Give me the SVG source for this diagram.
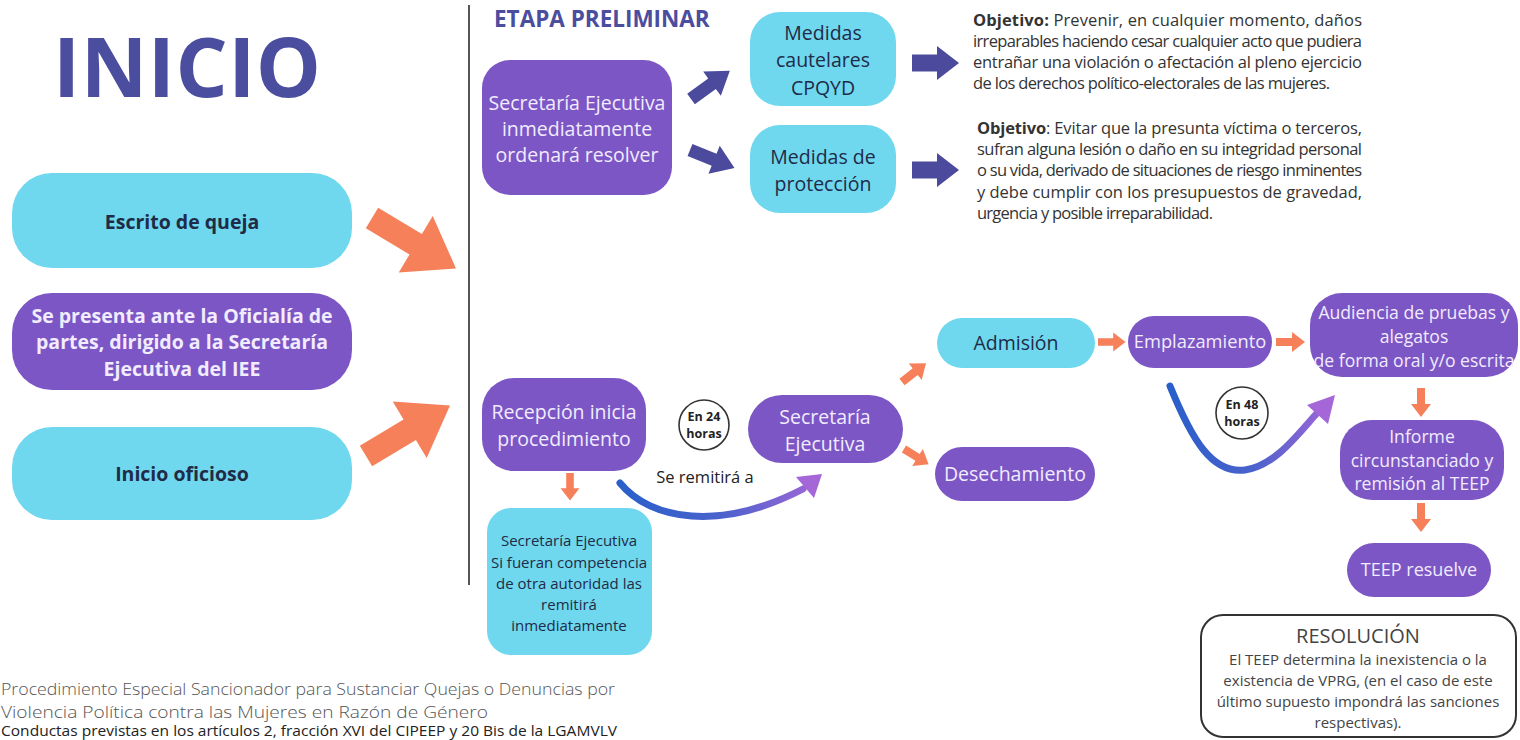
<svg xmlns="http://www.w3.org/2000/svg" xmlns:xlink="http://www.w3.org/1999/xlink" width="1520" height="740" viewBox="0 0 1520 740">
<defs>
<style>
text{font-family:"Open Sans","Noto Sans","DejaVu Sans",sans-serif}
.cy{fill:#6fd8ee}
.pu{fill:#7c56c4}
.or{fill:#f5805a}
.dk{fill:#4c4a9c}
.tdk{fill:#1f2b47;font-size:19.5px;text-anchor:middle}
.tlt{fill:#f1ecff;font-size:19.5px;text-anchor:middle}
.b{font-weight:700}
.obj{fill:#333;font-size:16.5px}
</style>
<polygon id="aBig" points="0,-12 51,-12 51,-33 98,0 51,33 51,12 0,12"/>
<polygon id="aDiag" points="0,-6.5 26,-6.5 26,-15 48,0 26,15 26,6.5 0,6.5"/>
<polygon id="aRight" points="0,-8.5 25,-8.5 25,-17 47,0 25,17 25,8.5 0,8.5"/>
<polygon id="aSm" points="0,-4 16,-4 16,-10 29,0 16,10 16,4 0,4"/>
<linearGradient id="g1" gradientUnits="userSpaceOnUse" x1="620" y1="0" x2="822" y2="0">
<stop offset="0" stop-color="#2a5fca"/><stop offset="0.5" stop-color="#4a62cc"/><stop offset="1" stop-color="#a566d8"/>
</linearGradient>
<linearGradient id="g2" gradientUnits="userSpaceOnUse" x1="1170" y1="0" x2="1335" y2="0">
<stop offset="0" stop-color="#2a5fca"/><stop offset="0.5" stop-color="#4a62cc"/><stop offset="1" stop-color="#a566d8"/>
</linearGradient>
</defs>
<rect width="1520" height="740" fill="#fff"/>

<text x="53" y="97" font-size="82" font-weight="700" fill="#4b4d9f" letter-spacing="0.5">INICIO</text>
<line x1="469" y1="5" x2="469" y2="585" stroke="#555" stroke-width="2"/>
<text x="494" y="27" font-size="22.5" font-weight="700" fill="#4b4d9f">ETAPA PRELIMINAR</text>

<g id="connectors">
<use href="#aBig" class="or" transform="translate(372,218) rotate(31)"/>
<use href="#aBig" class="or" transform="translate(366,456) rotate(-31)"/>
<use href="#aDiag" class="dk" transform="translate(691,99) rotate(-36)"/>
<use href="#aDiag" class="dk" transform="translate(690,150) rotate(22)"/>
<use href="#aRight" class="dk" transform="translate(912,63)"/>
<use href="#aRight" class="dk" transform="translate(912,170)"/>
<use href="#aSm" class="or" transform="translate(570,473) rotate(90) scale(0.95)"/>
<use href="#aSm" class="or" transform="translate(902,382) rotate(-38) scale(1.05)"/>
<use href="#aSm" class="or" transform="translate(904,449) rotate(32)"/>
<use href="#aSm" class="or" transform="translate(1098,342) scale(0.95)"/>
<use href="#aSm" class="or" transform="translate(1276,342)"/>
<use href="#aSm" class="or" transform="translate(1421,388) rotate(90)"/>
<use href="#aSm" class="or" transform="translate(1421,503) rotate(90)"/>
<path d="M620,483 C650,520 720,532 803,489" fill="none" stroke="url(#g1)" stroke-width="7" stroke-linecap="round"/>
<polygon points="822,474 796,477 814,498" fill="#a566d8"/>
<path d="M1170,386 C1192,440 1212,474 1245,470 C1275,466 1298,434 1318,412" fill="none" stroke="url(#g2)" stroke-width="7" stroke-linecap="round"/>
<polygon points="1335,395 1307,405 1328,424" fill="#a566d8"/>
<text x="705" y="483" font-size="16.5" fill="#222" text-anchor="middle">Se remitirá a</text>
</g>

<g id="escrito">
<rect x="12" y="173" width="340" height="95" rx="40" class="cy"/>
<text x="182" y="229" class="tdk b">Escrito de queja</text>
</g>
<g id="presenta">
<rect x="12" y="293" width="340" height="97" rx="40" class="pu"/>
<text x="182" y="323" class="tlt b">Se presenta ante la Oficialía de</text>
<text x="182" y="349" class="tlt b">partes, dirigido a la Secretaría</text>
<text x="182" y="376" class="tlt b">Ejecutiva del IEE</text>
</g>
<g id="oficioso">
<rect x="12" y="427" width="340" height="93" rx="40" class="cy"/>
<text x="182" y="481" class="tdk b">Inicio oficioso</text>
</g>

<g id="se-ordena">
<rect x="482" y="60" width="190" height="135" rx="28" class="pu"/>
<text x="577" y="110" class="tlt">Secretaría Ejecutiva</text>
<text x="577" y="136" class="tlt">inmediatamente</text>
<text x="577" y="162" class="tlt">ordenará resolver</text>
</g>
<g id="cautelares">
<rect x="750" y="12" width="146" height="94" rx="30" class="cy"/>
<text x="823" y="40" class="tdk">Medidas</text>
<text x="823" y="67" class="tdk">cautelares</text>
<text x="823" y="95" class="tdk">CPQYD</text>
</g>
<g id="proteccion">
<rect x="750" y="125" width="146" height="88" rx="30" class="cy"/>
<text x="823" y="164" class="tdk">Medidas de</text>
<text x="823" y="191" class="tdk">protección</text>
</g>

<g id="objetivo1">
<text x="973" y="26" class="obj" textLength="389" lengthAdjust="spacing"><tspan font-weight="700">Objetivo:</tspan> Prevenir, en cualquier momento, daños</text>
<text x="973" y="47" class="obj" textLength="389" lengthAdjust="spacing">irreparables haciendo cesar cualquier acto que pudiera</text>
<text x="973" y="68" class="obj" textLength="389" lengthAdjust="spacing">entrañar una violación o afectación al pleno ejercicio</text>
<text x="973" y="89" class="obj" textLength="357" lengthAdjust="spacing">de los derechos político-electorales de las mujeres.</text>
</g>
<g id="objetivo2">
<text x="977" y="134" class="obj" textLength="385" lengthAdjust="spacing"><tspan font-weight="700">Objetivo</tspan>: Evitar que la presunta víctima o terceros,</text>
<text x="977" y="155" class="obj" textLength="385" lengthAdjust="spacing">sufran alguna lesión o daño en su integridad personal</text>
<text x="977" y="176" class="obj" textLength="385" lengthAdjust="spacing">o su vida, derivado de situaciones de riesgo inminentes</text>
<text x="977" y="198" class="obj" textLength="385" lengthAdjust="spacing">y debe cumplir con los presupuestos de gravedad,</text>
<text x="977" y="219" class="obj" textLength="236" lengthAdjust="spacing">urgencia y posible irreparabilidad.</text>
</g>

<g id="recepcion">
<rect x="482" y="378" width="164" height="93" rx="32" class="pu"/>
<text x="564" y="419" class="tlt">Recepción inicia</text>
<text x="564" y="446" class="tlt">procedimiento</text>
</g>
<g id="otra-autoridad">
<rect x="487" y="508" width="165" height="147" rx="24" class="cy"/>
<g fill="#1f2b47" font-size="15" text-anchor="middle">
<text x="569" y="546">Secretaría Ejecutiva</text>
<text x="569" y="568">Si fueran competencia</text>
<text x="569" y="589">de otra autoridad las</text>
<text x="569" y="610">remitirá</text>
<text x="569" y="631">inmediatamente</text>
</g>
</g>
<g id="en24">
<circle cx="704" cy="425" r="25" fill="#fff" stroke="#333" stroke-width="1.6"/>
<text x="704" y="421" font-size="12.5" font-weight="700" fill="#222" text-anchor="middle">En 24</text>
<text x="704" y="438" font-size="12.5" font-weight="700" fill="#222" text-anchor="middle">horas</text>
</g>
<g id="sec-ejecutiva">
<rect x="748" y="395" width="155" height="68" rx="34" class="pu"/>
<text x="825" y="424" class="tlt">Secretaría</text>
<text x="825" y="451" class="tlt">Ejecutiva</text>
</g>
<g id="admision">
<rect x="937" y="318" width="158" height="50" rx="25" class="cy"/>
<text x="1016" y="350" class="tdk">Admisión</text>
</g>
<g id="desechamiento">
<rect x="935" y="447" width="160" height="54" rx="27" class="pu"/>
<text x="1015" y="481" class="tlt">Desechamiento</text>
</g>
<g id="emplazamiento">
<rect x="1128" y="316" width="144" height="52" rx="26" class="pu"/>
<text x="1200" y="348" class="tlt" style="font-size:18.3px">Emplazamiento</text>
</g>
<g id="audiencia">
<rect x="1310" y="293" width="208" height="84" rx="32" class="pu"/>
<text x="1414" y="319" class="tlt" style="font-size:17.6px">Audiencia de pruebas y</text>
<text x="1414" y="343" class="tlt" style="font-size:17.6px">alegatos</text>
<text x="1414" y="367" class="tlt" style="font-size:17.6px">de forma oral y/o escrita</text>
</g>
<g id="en48">
<circle cx="1242" cy="413" r="26" fill="#fff" stroke="#333" stroke-width="1.6"/>
<text x="1242" y="409" font-size="12.5" font-weight="700" fill="#222" text-anchor="middle">En 48</text>
<text x="1242" y="426" font-size="12.5" font-weight="700" fill="#222" text-anchor="middle">horas</text>
</g>
<g id="informe">
<rect x="1340" y="420" width="164" height="80" rx="32" class="pu"/>
<text x="1422" y="443" class="tlt" style="font-size:17.6px">Informe</text>
<text x="1422" y="467" class="tlt" style="font-size:17.6px">circunstanciado y</text>
<text x="1422" y="490" class="tlt" style="font-size:17.6px">remisión al TEEP</text>
</g>
<g id="teep">
<rect x="1347" y="543" width="144" height="54" rx="27" class="pu"/>
<text x="1419" y="576" class="tlt" style="font-size:18px">TEEP resuelve</text>
</g>
<g id="resolucion">
<rect x="1201" y="615" width="315" height="122" rx="22" fill="#fff" stroke="#333" stroke-width="2"/>
<text x="1358" y="643" font-size="20" fill="#444" text-anchor="middle">RESOLUCIÓN</text>
<g font-size="15" fill="#444" text-anchor="middle">
<text x="1358" y="665">El TEEP determina la inexistencia o la</text>
<text x="1358" y="686">existencia de VPRG, (en el caso de este</text>
<text x="1358" y="707">último supuesto impondrá las sanciones</text>
<text x="1358" y="728">respectivas).</text>
</g>
</g>

<g id="footer">
<text x="1" y="695" font-size="17" font-weight="300" fill="#555" textLength="614" lengthAdjust="spacingAndGlyphs">Procedimiento Especial Sancionador para Sustanciar Quejas o Denuncias por</text>
<text x="1" y="718" font-size="17" font-weight="300" fill="#555" textLength="487" lengthAdjust="spacingAndGlyphs">Violencia Política contra las Mujeres en Razón de Género</text>
<text x="1" y="736" font-size="14.5" fill="#222" textLength="616" lengthAdjust="spacingAndGlyphs">Conductas previstas en los artículos 2, fracción XVI del CIPEEP y 20 Bis de la LGAMVLV</text>
</g>
</svg>
